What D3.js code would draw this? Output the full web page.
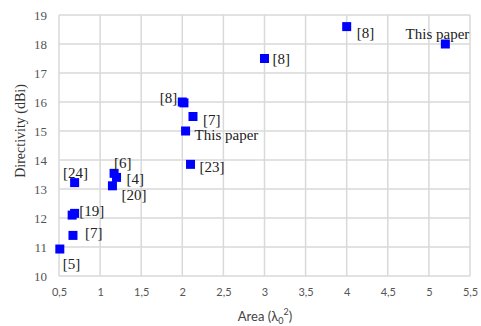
<!DOCTYPE html>
<html>
<head>
<meta charset="utf-8">
<script src="https://cdn.jsdelivr.net/npm/d3@7"></script>
<style>
  body { margin: 0; background: #fff; }
</style>
</head>
<body>
<svg id="chart" width="481" height="326"></svg>
<script>
// data
var area = [2.0, 2.02, 2.13, 2.04, 3.0, 4.0, 5.2, 2.1, 0.69, 1.17, 1.2, 1.15, 0.66, 0.69, 0.67, 0.51];
var directivity = [16.0, 15.97, 15.5, 15.0, 17.5, 18.6, 18.0, 13.85, 13.22, 13.54, 13.4, 13.11, 12.1, 12.16, 11.4, 10.93];
var refs = ["[8]", "", "[7]", "This paper", "[8]", "[8]", "This paper", "[23]", "[24]", "[6]", "[4]", "[20]", "[19]", "", "[7]", "[5]"];
var xTicks = [0.5, 1, 1.5, 2, 2.5, 3, 3.5, 4, 4.5, 5, 5.5];
var yTicks = [10, 11, 12, 13, 14, 15, 16, 17, 18, 19];

// label placement: [dx, dy, anchor]
var labelPos = [
    [-5, 1, "end"], null, [10, 8, "start"], [9, 9, "start"], [8, 5, "start"],
    [10, 11, "start"], [24, -5, "end"], [9, 8, "start"], [1, -5, "middle"],
    [0, -5, "start"], [10, 7, "start"], [9, 14, "start"], [7, 1, "start"],
    null, [12, 3, "start"], [3, 20, "start"]
];

var svg = d3.select("#chart");
var plotLeft = 59, plotRight = 470, plotTop = 15, plotBottom = 276;

var x = d3.scaleLinear().domain([0.5, 5.5]).range([plotLeft, plotRight]);
var y = d3.scaleLinear().domain([10, 19]).range([plotBottom, plotTop]);

var grid = svg.append("g");
grid.selectAll("line.v")
    .data(xTicks)
    .join("line")
        .attr("class", "v")
        .attr("x1", d => x(d)).attr("x2", d => x(d))
        .attr("y1", plotTop).attr("y2", plotBottom)
        .style("stroke", "#d9d9d9")
        .style("stroke-width", 1.5);
grid.selectAll("line.h")
    .data(yTicks)
    .join("line")
        .attr("class", "h")
        .attr("x1", plotLeft).attr("x2", plotRight)
        .attr("y1", d => y(d)).attr("y2", d => y(d))
        .style("stroke", "#d9d9d9")
        .style("stroke-width", 1.5);

var fmt = d => String(d).replace(".", ",");

var xAxis = svg.append("g")
    .attr("transform", "translate(0," + plotBottom + ")")
    .call(d3.axisBottom(x).tickValues(xTicks).tickFormat(fmt).tickSize(0).tickPadding(12));
xAxis.select(".domain").remove();
xAxis.selectAll("text")
    .style("font-family", "Lato, 'Open Sans', sans-serif")
    .style("font-size", "11px")
    .style("fill", "#555");

var yAxis = svg.append("g")
    .attr("transform", "translate(" + plotLeft + ",0)")
    .call(d3.axisLeft(y).tickValues(yTicks).tickSize(0).tickPadding(12));
yAxis.select(".domain").remove();
yAxis.selectAll("text")
    .style("font-family", "'Liberation Serif', serif")
    .style("font-size", "13px")
    .style("fill", "#555");

var pts = d3.range(area.length);

svg.append("g").selectAll("rect")
    .data(pts)
    .join("rect")
        .attr("x", i => x(area[i]) - 4.5)
        .attr("y", i => y(directivity[i]) - 4.5)
        .attr("width", 9)
        .attr("height", 9)
        .style("fill", "#0000ff");

svg.append("g").selectAll("text")
    .data(pts.filter(i => refs[i] !== ""))
    .join("text")
        .attr("x", i => x(area[i]) + labelPos[i][0])
        .attr("y", i => y(directivity[i]) + labelPos[i][1])
        .attr("text-anchor", i => labelPos[i][2])
        .style("font-family", "'Liberation Serif', serif")
        .style("font-size", "15px")
        .style("fill", "#222")
        .text(i => refs[i]);

// axis titles
svg.append("text")
    .attr("transform", "translate(25,131) rotate(-90)")
    .attr("text-anchor", "middle")
    .style("font-family", "'Liberation Serif', serif")
    .style("font-size", "14px")
    .style("fill", "#333")
    .text("Directivity (dBi)");

var xt = svg.append("text")
    .attr("x", 265)
    .attr("y", 321)
    .attr("text-anchor", "middle")
    .style("font-family", "Lato, 'Open Sans', sans-serif")
    .style("font-size", "13px")
    .style("fill", "#444");
xt.append("tspan").text("Area (λ");
xt.append("tspan").attr("dy", 3).style("font-size", "9px").text("0");
xt.append("tspan").attr("dy", -9).style("font-size", "9px").text("2");
xt.append("tspan").attr("dy", 6).text(")");
</script>
</body>
</html>
